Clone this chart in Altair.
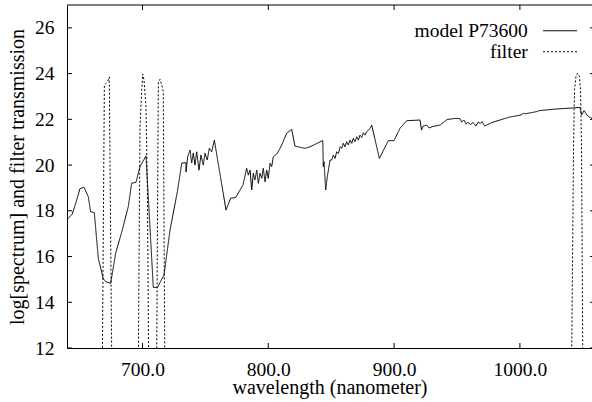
import altair as alt
import pandas as pd

series_names = ["model P73600", "filter"]

spec_nm = [640.4, 644.2, 647.7, 650.3, 653.5, 656.9, 658.8, 661.7, 664.9, 668.9,
           670.8, 674.7, 678.7, 683.5, 688.7, 691.4, 694.8, 698.0, 702.8, 708.6,
           711.9, 717.1, 721.9, 727.8, 731.2, 734.6, 734.6, 735.9, 736.4, 737.8,
           739.1, 740.4, 741.7, 743.1, 744.9, 746.5, 748.3, 749.7, 751.5, 753.1,
           755.0, 757.1, 766.4, 770.1, 774.1, 779.9, 782.8, 784.1, 785.5, 786.8,
           788.1, 789.4, 790.8, 792.1, 793.4, 794.8, 796.0, 797.4, 798.7, 800.0,
           801.4, 802.7, 804.0, 807.2, 810.7, 814.6, 818.6, 821.2, 829.2, 833.2,
           839.8, 843.3, 843.7, 844.3, 845.6, 846.9, 849.1, 850.4, 851.7, 853.0,
           854.4, 855.7, 857.1, 858.4, 859.6, 861.0, 862.3, 863.6, 865.0, 866.3,
           867.6, 868.9, 870.3, 871.6, 872.9, 874.3, 875.5, 876.9, 878.2, 880.9,
           882.2, 888.3, 895.4, 899.9, 904.7, 910.0, 920.6, 921.8, 923.2, 925.9,
           927.8, 930.2, 933.9, 936.5, 942.1, 948.4, 952.4, 953.7, 955.6, 957.2,
           958.8, 960.6, 962.7, 965.1, 966.7, 968.5, 969.9, 972.0, 977.8, 991.1,
           1000.9, 1002.7, 1004.1, 1013.6, 1015.2, 1028.7, 1047.8, 1049.0, 1051.0, 1053.8,
           1056.5, 1059.7]
spec_val = [17.64, 17.86, 18.47, 18.97, 19.03, 18.62, 17.96, 17.92, 15.92, 15.02,
            14.90, 14.83, 16.15, 17.07, 18.18, 19.21, 19.24, 19.93, 20.40, 14.65,
            14.65, 15.19, 17.16, 18.86, 20.09, 20.10, 19.70, 20.36, 20.44, 20.66,
            20.09, 20.53, 20.00, 20.58, 19.78, 20.44, 20.00, 20.51, 20.22, 20.73,
            20.58, 21.09, 18.03, 18.55, 18.58, 19.13, 19.86, 19.56, 19.78, 18.91,
            19.64, 19.35, 19.78, 19.20, 19.64, 19.42, 19.86, 19.27, 19.78, 19.42,
            20.08, 19.93, 20.36, 20.51, 20.88, 21.39, 21.56, 20.83, 20.73, 20.80,
            20.98, 21.07, 19.93, 20.15, 18.91, 19.49, 20.22, 20.22, 20.44, 20.29,
            20.58, 20.51, 20.80, 20.73, 20.95, 20.80, 21.02, 20.88, 21.09, 20.95,
            21.17, 21.02, 21.24, 21.09, 21.31, 21.21, 21.41, 21.31, 21.46, 21.60,
            21.75, 20.29, 21.07, 21.07, 21.61, 21.94, 21.97, 21.53, 21.71, 21.75,
            21.62, 21.68, 21.72, 21.75, 21.99, 22.04, 22.03, 21.88, 21.97, 21.79,
            21.88, 21.77, 21.86, 21.71, 21.88, 21.82, 21.90, 21.71, 21.86, 22.09,
            22.19, 22.26, 22.24, 22.34, 22.38, 22.45, 22.52, 22.19, 22.38, 22.15,
            22.06, 22.00]

filt_nm = [640.0, 666.6, 669.7, 671.0, 672.8, 673.6, 677.4,
           695.3, 698.0, 699.2, 700.2, 701.2, 702.8, 704.0, 706.3,
           710.0, 712.6, 713.9, 715.8, 716.5, 719.0,
           1039.3, 1042.6, 1043.4, 1044.6, 1045.8, 1047.2, 1048.2, 1049.0, 1051.2, 1060.0]
filt_val = [0.0, 0.0, 23.50, 23.57, 23.72, 23.85, 0.0,
            0.0, 21.66, 23.06, 23.98, 23.72, 22.54, 18.47, 0.0,
            0.0, 23.63, 23.75, 23.40, 23.21, 0.0,
            0.0, 20.66, 23.28, 23.89, 24.01, 23.89, 23.28, 20.66, 0.0, 0.0]

x_ticks = [700, 800, 900, 1000]
y_ticks = [12, 14, 16, 18, 20, 22, 24, 26]

rows = []
for i, (a, b) in enumerate(zip(spec_nm, spec_val)):
    rows.append({"nm": a, "val": b, "series": series_names[0], "i": i})
for i, (a, b) in enumerate(zip(filt_nm, filt_val)):
    rows.append({"nm": a, "val": b, "series": series_names[1], "i": i})
df = pd.DataFrame(rows)

FONT = "Liberation Serif, Times New Roman, serif"
W, H = 525, 343
xs = alt.Scale(domain=[640, 1057.3], nice=False, zero=False)
ys = alt.Scale(domain=[12, 27], nice=False, zero=False)

x_axis = alt.Axis(values=x_ticks, format=".1f", title="wavelength (nanometer)",
                  titleY=45, titleBaseline="alphabetic", labelPadding=12)
y_axis = alt.Axis(values=y_ticks, format="d", title="log[spectrum] and filter transmission",
                  titleX=-44, titleBaseline="alphabetic", labelPadding=13)

lines = alt.Chart(df).mark_line(clip=True, strokeWidth=1, color="black").encode(
    x=alt.X("nm:Q", scale=xs, axis=x_axis),
    y=alt.Y("val:Q", scale=ys, axis=y_axis),
    strokeDash=alt.StrokeDash("series:N", scale=alt.Scale(domain=series_names, range=[[1, 0], [2, 2]]),
                              legend=alt.Legend(title=None, orient="none", legendX=483.3, legendY=16,
                                                symbolType="M-3,0H3", symbolSize=128,
                                                symbolStrokeWidth=1, symbolStrokeColor="black",
                                                symbolFillColor="transparent",
                                                labelAlign="right", labelOffset={"expr": "-42"},
                                                labelFont=FONT, labelFontSize=19.5, labelColor="black",
                                                rowPadding=0, padding=0)),
    order="i:Q",
)

xt = pd.DataFrame({"nm": x_ticks})
yt = pd.DataFrame({"val": y_ticks})
one = pd.DataFrame({"a": [0]})

bottom_ticks = alt.Chart(xt).mark_rule(color="black").encode(
    x=alt.X("nm:Q", scale=xs, axis=x_axis), y=alt.value(H - 5), y2=alt.value(H))
top_ticks = alt.Chart(xt).mark_rule(color="black").encode(
    x=alt.X("nm:Q", scale=xs, axis=x_axis), y=alt.value(0), y2=alt.value(5))
left_ticks = alt.Chart(yt).mark_rule(color="black").encode(
    y=alt.Y("val:Q", scale=ys, axis=y_axis), x=alt.value(0), x2=alt.value(5))
right_ticks = alt.Chart(yt).mark_rule(color="black").encode(
    y=alt.Y("val:Q", scale=ys, axis=y_axis), x=alt.value(W - 2), x2=alt.value(W + 3))
top_border = alt.Chart(one).mark_rule(color="black").encode(
    x=alt.value(0), x2=alt.value(W), y=alt.value(0))

chart = alt.layer(lines, bottom_ticks, top_ticks, left_ticks, right_ticks, top_border).properties(
    width=W, height=H,
    autosize=alt.AutoSizeParams(type="none"),
    padding={"left": 67, "top": 5, "right": 0, "bottom": 54},
    background="white",
).configure_view(stroke=None).configure_axis(
    domain=True, domainColor="black", domainWidth=1, ticks=False, tickSize=0, grid=False,
    labelFont=FONT, labelFontSize=19.5, labelColor="black",
    titleFont=FONT, titleFontSize=20, titleFontWeight="normal", titleColor="black",
)

chart.save("out.html", embed_options={"renderer": "svg", "actions": False})
